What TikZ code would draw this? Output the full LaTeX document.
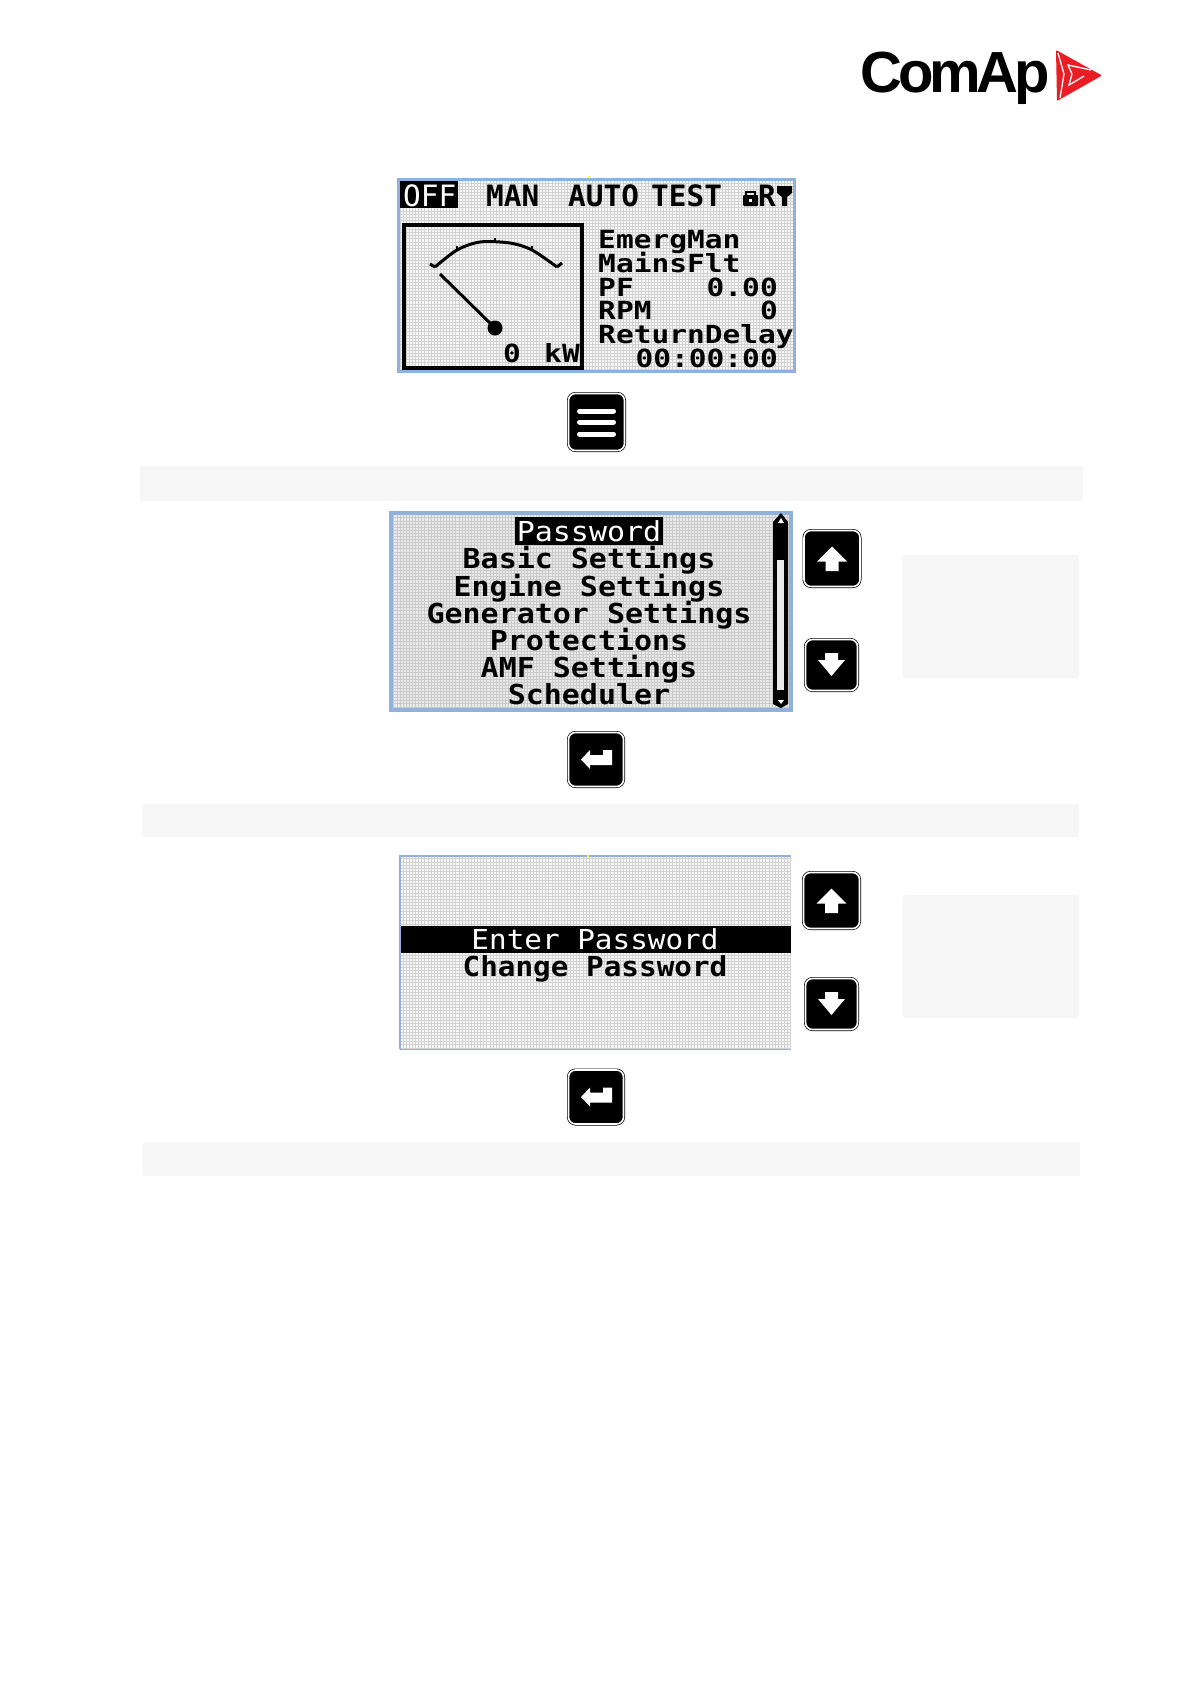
\documentclass[tikz,border=0pt]{standalone}
\usepackage{fontspec}
\newfontfamily\lcdfont{DejaVu Sans Mono}
\newfontfamily\logofont[LetterSpace=-7]{Liberation Sans}
\definecolor{lcdblue}{HTML}{8FB1DC}
\definecolor{lcdgrid}{HTML}{D2D2D2}
\definecolor{lcdback}{HTML}{F6F6F6}
\definecolor{bandgray}{HTML}{F6F6F6}
\definecolor{logored}{HTML}{EA1C24}
\tikzset{
	toptext/.style={inner sep=0pt, anchor=base west, font=\lcdfont\bfseries\fontsize{29.4}{29.4}\selectfont},
	lcdtext/.style={inner sep=0pt, anchor=base west, xscale=1.18, font=\lcdfont\bfseries\fontsize{25}{25}\selectfont},
	menutext/.style={inner sep=0pt, anchor=base, xscale=1.09, font=\lcdfont\bfseries\fontsize{27.5}{27.5}\selectfont},
	keybtn/.style={draw=black, line width=.7pt, double=white, double distance=1.6pt, fill=black, rounded corners=7pt, inner sep=0pt},
	bandbox/.style={fill=bandgray, rounded corners=2pt},
	gridline/.style={lcdgrid, line width=.55pt, step=3.1pt}
}
\begin{document}
\begin{tikzpicture}[x=1pt,y=-1pt]
	\useasboundingbox (0,0) rectangle (1191,1684);
	%logo
	\node[inner sep=0pt, anchor=base west, font=\logofont\bfseries\fontsize{58}{58}\selectfont] (logoname) at (860,92) {ComAp};
	\fill[logored, rounded corners=1pt] (1056,50) -- (1102,75.5) -- (1057,101) -- cycle;
	\draw[white, line width=1.3pt] (1058,53) -- (1064,74) -- (1060,98);
	\draw[white, line width=1.3pt] (1091,70) -- (1068,65) -- (1072,74) -- (1069,85) -- (1084,76);

	%gray bands
	\fill[bandbox] (140,466) rectangle (1083,501);
	\fill[bandbox] (143,804) rectangle (1079,837);
	\fill[bandbox] (143,1142) rectangle (1080,1176);
	\fill[bandbox] (903,555) rectangle (1079,678);
	\fill[bandbox] (903,895) rectangle (1079,1018);

	%first screen
	\fill[lcdback] (397,178) rectangle (796,373);
	\draw[gridline] (399,180) grid (794,371);
	\draw[lcdblue, line width=3.5pt] (398.7,179.7) rectangle (794.3,371.3);
	\fill[yellow!80!white] (589,177) circle (1.5);
	\fill[black] (400,181) rectangle (458,208);
	\node[toptext, white, font=\lcdfont\fontsize{29.4}{29.4}\selectfont] (modeoff) at (403,206) {OFF};
	\node[toptext] (modeman) at (486,206) {MAN};
	\node[toptext] (modeauto) at (568,206) {AUTO};
	\node[toptext] (modetest) at (651,206) {TEST};
	\node[toptext] (moder) at (758,206) {R};
	%lock and filter icons
	\fill[black, rounded corners=1pt] (743,195) rectangle (758,206);
	\draw[black, line width=2pt] (746,196) -- (746,192) -- (755,192) -- (755,196);
	\fill[white] (749,199) rectangle (752,202);
	\fill[black] (777,186) -- (792,186) -- (792,193) -- (787,197) -- (787,206) -- (782,206) -- (782,197) -- (777,193) -- cycle;

	%gauge
	\draw[black, line width=3.6pt] (404,225) rectangle (582,368);
	\draw[black, line width=3pt] plot[smooth] coordinates {(435,267) (457,250) (480,242) (510,243) (532,250) (557,267)};
	\draw[black, line width=3pt] (430,264) -- (435,267);
	\draw[black, line width=3pt] (557,267) -- (562,263);
	\foreach \x/\y in {457/250, 495/242, 532/250}
	\draw[black, line width=2.4pt] (\x,\y) -- (\x,\y-4);
	\node[inner sep=0pt] (needlehub) at (495,328) {};
	\coordinate (needletip) at (440,274);
	\draw[black, line width=3pt] (needletip) -- (needlehub);
	\fill[black] (needlehub) circle (7.5);
	\node[lcdtext] (gaugezero) at (503,362) {0};
	\node[lcdtext] (gaugeunit) at (544,362) {kW};

	%first screen values
	\node[lcdtext] (lineemerg) at (598,248) {EmergMan};
	\node[lcdtext] (linemains) at (598,272) {MainsFlt};
	\node[lcdtext] (linepf) at (598,296) {PF};
	\node[lcdtext] (linerpm) at (598,319.5) {RPM};
	\node[lcdtext] (linedelay) at (598,343) {ReturnDelay};
	\node[lcdtext, anchor=base east] (valpf) at (778,296) {0.00};
	\node[lcdtext, anchor=base east] (valrpm) at (778,319.5) {0};
	\node[lcdtext, anchor=base east] (valdelay) at (778,367) {00:00:00};

	%second screen
	\fill[lcdback!95!black] (389,511) rectangle (793,712);
	\draw[gridline, lcdgrid!96!black] (391,513) grid (791,710);
	\draw[lcdblue, line width=4pt] (391,513) rectangle (791,710);
	\fill[black] (515,517) rectangle (663,545);
	\node[menutext, white, font=\lcdfont\fontsize{27.5}{27.5}\selectfont] (menupass) at (589,541) {Password};
	\foreach \nm/\txt/\y in {menubasic/Basic Settings/568, menuengine/Engine Settings/596, menugen/Generator Settings/623, menuprot/Protections/650, menuamf/AMF Settings/677, menusched/Scheduler/704}
	\node[menutext] (\nm) at (589,\y) {\txt};
	%scroll bar
	\fill[black] (781,513) -- (788,522) -- (788,530) -- (788,697) -- (788,704) -- (781,708) -- (773,704) -- (773,522) -- cycle;
	\fill[lcdback!95!black] (777,560) rectangle (784,690);
	\fill[white] (781,518) -- (784,523) -- (778,523) -- cycle;
	\fill[white] (778,700) -- (784,700) -- (781,704) -- cycle;

	%third screen
	\fill[lcdback] (399,855) rectangle (791,1049);
	\draw[gridline] (401,857) grid (791,1048);
	\draw[lcdblue, line width=2.8pt] (400,1049) -- (400,856) -- (791,856);
	\draw[lcdblue, line width=.7pt] (400,1049) -- (791,1049);
	\fill[yellow!80!white] (588,856) circle (1.5);
	\fill[black] (401,926) rectangle (791,953);
	\node[menutext, white, xscale=.978, font=\lcdfont\fontsize{27.5}{27.5}\selectfont] (menuenter) at (595,949) {Enter Password};
	\node[menutext, xscale=.978] (menuchange) at (595,976) {Change Password};

	%keys
	\node[keybtn, minimum width=56pt, minimum height=57pt] (keymenu) at (596.5,422) {};
	\foreach \y in {-11,0,12}
	\draw[white, line width=5pt, line cap=round, shift={(keymenu.center)}] (-17,\y) -- (17,\y);

	\foreach \nm/\x/\y in {keyupa/832/558.5, keyupb/831.5/900.5}
	{
		\node[keybtn, minimum width=56pt, minimum height=56pt] (\nm) at (\x,\y) {};
		\fill[white, shift={(\nm.center)}] (0,-12) -- (15,3) -- (6.5,3) -- (6.5,12.5) -- (-6.5,12.5) -- (-6.5,3) -- (-15,3) -- cycle;
	}
	\foreach \nm/\x/\y in {keydowna/831.5/665, keydownb/831.5/1004}
	{
		\node[keybtn, minimum width=52pt, minimum height=51pt] (\nm) at (\x,\y) {};
		\fill[white, shift={(\nm.center)}] (0,11) -- (13.5,-5) -- (6.5,-5) -- (6.5,-12) -- (-6.5,-12) -- (-6.5,-5) -- (-13.5,-5) -- cycle;
	}
	\foreach \nm/\x/\y in {keyentera/596/759.5, keyenterb/596/1097}
	{
		\node[keybtn, minimum width=55pt, minimum height=54pt] (\nm) at (\x,\y) {};
		\fill[white, shift={(\nm.center)}] (16,-9.5) -- (7,-9.5) -- (7,-4.5) -- (-6,-4.5) -- (-6,-9.5) -- (-15,0) -- (-6,9.5) -- (-6,5.5) -- (16,5.5) -- cycle;
	}
\end{tikzpicture}
\end{document}
